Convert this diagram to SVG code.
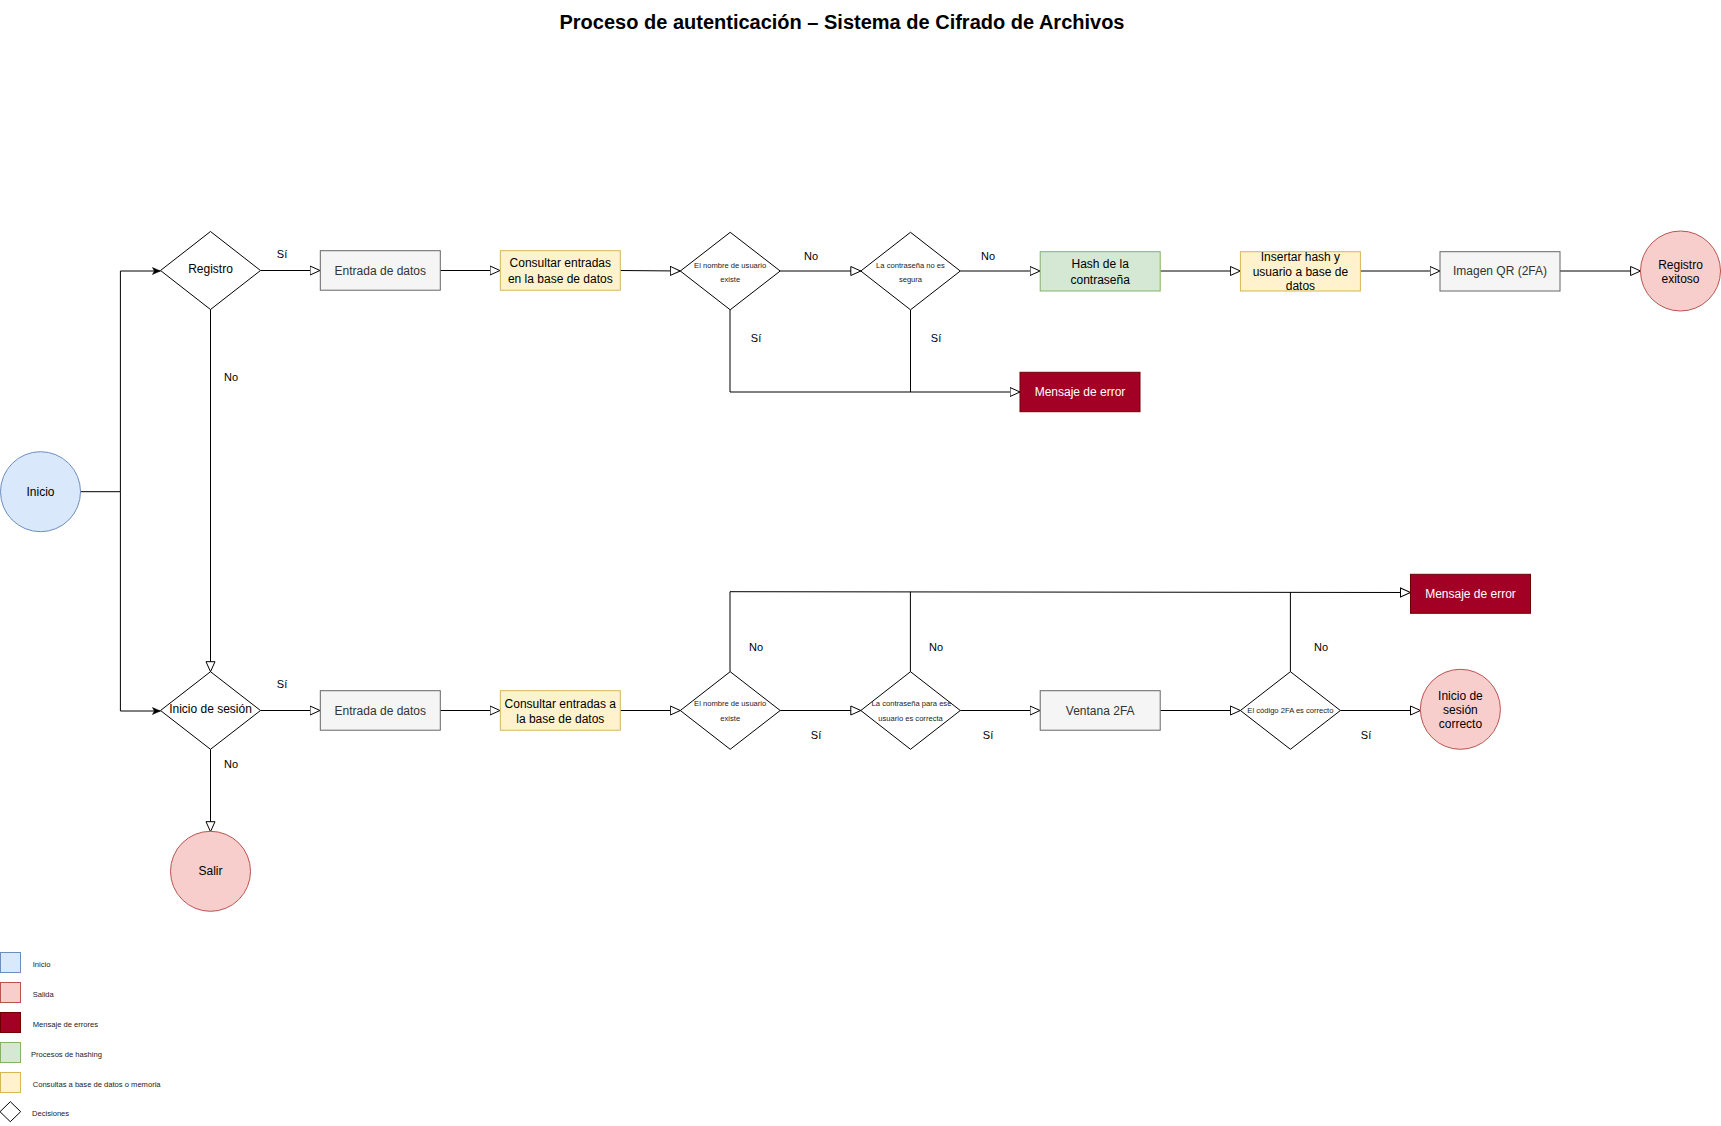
<svg xmlns="http://www.w3.org/2000/svg" width="1721" height="1126" viewBox="0 0 1721 1126">
<defs>
<style>
text{font-family:"Liberation Sans",Arial,Helvetica,sans-serif;}
.t12{font-size:12px;fill:#000;text-anchor:middle;dominant-baseline:central;}
.g12{font-size:12px;fill:#333333;text-anchor:middle;dominant-baseline:central;}
.w12{font-size:12px;fill:#ffffff;text-anchor:middle;dominant-baseline:central;}
.d8{font-size:7.6px;fill:#222;text-anchor:middle;dominant-baseline:central;}
.lbl{font-size:11px;fill:#000;text-anchor:middle;dominant-baseline:central;}
.leg{font-size:7.6px;fill:#222;dominant-baseline:central;}
.gray{fill:#f5f5f5;stroke:#666666;stroke-width:1;}
.yel{fill:#fff2cc;stroke:#d6b656;stroke-width:1;}
.grn{fill:#d5e8d4;stroke:#82b366;stroke-width:1;}
.blue{fill:#dae8fc;stroke:#6c8ebf;stroke-width:1;}
.pink{fill:#f8cecc;stroke:#b85450;stroke-width:1;}
.err{fill:#a20025;stroke:#6f0000;stroke-width:1;}
.dec{fill:#ffffff;stroke:#000;stroke-width:1;}
.c{fill:none;stroke:#000;stroke-width:1;}
.ca{fill:none;stroke:#000;stroke-width:1;marker-end:url(#open);}
.cf{fill:none;stroke:#000;stroke-width:1;marker-end:url(#filled);}
</style>
<marker id="open" markerUnits="userSpaceOnUse" markerWidth="12" markerHeight="12" refX="10.5" refY="5" orient="auto" viewBox="0 0 12 10">
<path d="M0.5,0.5 L10.5,5 L0.5,9.5 Z" fill="#ffffff" stroke="#000" stroke-width="1"/>
</marker>
<marker id="filled" markerUnits="userSpaceOnUse" markerWidth="9" markerHeight="8" refX="8" refY="3.5" orient="auto" viewBox="0 0 9 7">
<path d="M0,0 L8,3.5 L0,7 L2,3.5 Z" fill="#000" stroke="#000" stroke-width="0.5"/>
</marker>
</defs>
<rect width="1721" height="1126" fill="#ffffff"/>

<text x="842" y="22" style="font-size:20px;font-weight:bold;text-anchor:middle;dominant-baseline:central;fill:#000">Proceso de autenticación – Sistema de Cifrado de Archivos</text>

<g id="connectors">
<!-- Inicio split -->
<path class="c" d="M80,491.7 L120.4,491.7"/>
<path class="cf" d="M120.4,491.7 L120.4,271 L160.4,271"/>
<path class="cf" d="M120.4,491.7 L120.4,711 L160.4,711"/>
<!-- top row -->
<path class="ca" d="M260.5,270.5 L320,270.5"/>
<path class="ca" d="M440,270.5 L500,270.5"/>
<path class="ca" d="M620,270.5 L680.3,271"/>
<path class="ca" d="M780.2,271 L860.8,271"/>
<path class="ca" d="M960.3,271 L1040,271"/>
<path class="ca" d="M1160.4,271 L1240.4,271"/>
<path class="ca" d="M1360.4,271 L1440,271"/>
<path class="ca" d="M1560,271 L1640.6,271"/>
<path class="ca" d="M730,310 L730,392 L1020,392"/>
<path class="c" d="M910.5,310 L910.5,392"/>
<path class="ca" d="M210.5,309.5 L210.5,671.7"/>
<!-- bottom row -->
<path class="ca" d="M260.5,710.5 L320,710.5"/>
<path class="ca" d="M440,710.5 L500,710.5"/>
<path class="ca" d="M620,710.5 L680.3,710.5"/>
<path class="ca" d="M780.2,710.5 L860.8,710.5"/>
<path class="ca" d="M960.3,710.5 L1040,710.5"/>
<path class="ca" d="M1160.4,710.5 L1240.4,710.5"/>
<path class="ca" d="M1340.4,710.5 L1420.5,710.5"/>
<path class="ca" d="M730,671.7 L730,591.7 L1410.5,592.5"/>
<path class="c" d="M910.4,671.7 L910.4,591.8"/>
<path class="c" d="M1290.4,671.7 L1290.4,592.3"/>
<path class="ca" d="M210.5,749.3 L210.5,831.7"/>
</g>

<g id="edge-labels">
<text class="lbl" x="282" y="254">Sí</text>
<text class="lbl" x="231" y="377">No</text>
<text class="lbl" x="811" y="256">No</text>
<text class="lbl" x="988" y="256">No</text>
<text class="lbl" x="756" y="338">Sí</text>
<text class="lbl" x="936" y="338">Sí</text>
<text class="lbl" x="282" y="684">Sí</text>
<text class="lbl" x="231" y="764">No</text>
<text class="lbl" x="756" y="647">No</text>
<text class="lbl" x="936" y="647">No</text>
<text class="lbl" x="1321" y="647">No</text>
<text class="lbl" x="816" y="735">Sí</text>
<text class="lbl" x="988" y="735">Sí</text>
<text class="lbl" x="1366" y="735">Sí</text>
</g>

<g id="inicio">
<circle class="blue" cx="40.5" cy="491.7" r="40"/>
<text class="t12" x="40.5" y="491.7">Inicio</text>
</g>

<g id="registro">
<path class="dec" d="M210.5,231.5 L260.5,270.5 L210.5,309.5 L160.5,270.5 Z"/>
<text class="t12" x="210.5" y="269">Registro</text>
</g>
<g id="reg-entrada">
<rect class="gray" x="320.3" y="250.7" width="120" height="39.5"/>
<text class="g12" x="380.3" y="270.5">Entrada de datos</text>
</g>
<g id="reg-consultar">
<rect class="yel" x="500.3" y="250.7" width="120" height="39.5"/>
<text class="t12" x="560.3" y="263.3">Consultar entradas</text>
<text class="t12" x="560.3" y="278.5">en la base de datos</text>
</g>
<g id="reg-usuario-existe">
<path class="dec" d="M730.2,232.3 L780.2,271 L730.2,309.8 L680.3,271 Z"/>
<text class="d8" x="730.2" y="265">El nombre de usuario</text>
<text class="d8" x="730.2" y="279.3">existe</text>
</g>
<g id="reg-contrasena-segura">
<path class="dec" d="M910.5,232.3 L960.3,271 L910.5,309.8 L860.8,271 Z"/>
<text class="d8" x="910.5" y="265">La contraseña no es</text>
<text class="d8" x="910.5" y="279.3">segura</text>
</g>
<g id="hash">
<rect class="grn" x="1040.2" y="251.7" width="120" height="39.3"/>
<text class="t12" x="1100.2" y="264.3">Hash de la</text>
<text class="t12" x="1100.2" y="279.5">contraseña</text>
</g>
<g id="insertar">
<rect class="yel" x="1240.4" y="251.7" width="120" height="39.3"/>
<text class="t12" x="1300.4" y="257.3">Insertar hash y</text>
<text class="t12" x="1300.4" y="271.8">usuario a base de</text>
<text class="t12" x="1300.4" y="286.3">datos</text>
</g>
<g id="qr">
<rect class="gray" x="1440" y="251.7" width="120" height="39.3"/>
<text class="g12" x="1500" y="271.3">Imagen QR (2FA)</text>
</g>
<g id="registro-exitoso">
<circle class="pink" cx="1680.5" cy="271" r="40"/>
<text class="t12" x="1680.5" y="264.7">Registro</text>
<text class="t12" x="1680.5" y="279.3">exitoso</text>
</g>
<g id="reg-error">
<rect class="err" x="1020" y="372.3" width="120" height="39.4"/>
<text class="w12" x="1080" y="392">Mensaje de error</text>
</g>

<g id="inicio-sesion">
<path class="dec" d="M210.5,671.7 L260.5,710.5 L210.5,749.3 L160.5,710.5 Z"/>
<text class="t12" x="210.5" y="708.7">Inicio de sesión</text>
</g>
<g id="log-entrada">
<rect class="gray" x="320.3" y="690.7" width="120" height="39.5"/>
<text class="g12" x="380.3" y="710.5">Entrada de datos</text>
</g>
<g id="log-consultar">
<rect class="yel" x="500.3" y="690.7" width="120" height="39.5"/>
<text class="t12" x="560.3" y="703.7">Consultar entradas a</text>
<text class="t12" x="560.3" y="718.7">la base de datos</text>
</g>
<g id="log-usuario-existe">
<path class="dec" d="M730.2,671.7 L780.2,710.5 L730.2,749.3 L680.3,710.5 Z"/>
<text class="d8" x="730.2" y="703.3">El nombre de usuario</text>
<text class="d8" x="730.2" y="718.7">existe</text>
</g>
<g id="log-contrasena-correcta">
<path class="dec" d="M910.5,671.7 L960.3,710.5 L910.5,749.3 L860.8,710.5 Z"/>
<text class="d8" x="911.5" y="703.3">La contraseña para ese</text>
<text class="d8" x="910.5" y="718.7">usuario es correcta</text>
</g>
<g id="ventana-2fa">
<rect class="gray" x="1040.2" y="690.7" width="120" height="39.5"/>
<text class="g12" x="1100.2" y="710.5">Ventana 2FA</text>
</g>
<g id="codigo-2fa">
<path class="dec" d="M1290.4,671.7 L1340.4,710.5 L1290.4,749.3 L1240.4,710.5 Z"/>
<text class="d8" x="1290.4" y="710.3">El código 2FA es correcto</text>
</g>
<g id="inicio-correcto">
<circle class="pink" cx="1460.4" cy="709.3" r="40"/>
<text class="t12" x="1460.4" y="696">Inicio de</text>
<text class="t12" x="1460.4" y="710.2">sesión</text>
<text class="t12" x="1460.4" y="724.4">correcto</text>
</g>
<g id="log-error">
<rect class="err" x="1410.5" y="574.3" width="120" height="39"/>
<text class="w12" x="1470.5" y="594">Mensaje de error</text>
</g>
<g id="salir">
<circle class="pink" cx="210.5" cy="871.3" r="40"/>
<text class="t12" x="210.5" y="871.3">Salir</text>
</g>

<g id="legend">
<rect class="blue" x="0.5" y="952.5" width="20" height="20"/>
<text class="leg" x="32.7" y="964.3">Inicio</text>
<rect class="pink" x="0.5" y="982.5" width="20" height="20"/>
<text class="leg" x="32.7" y="994.3">Salida</text>
<rect class="err" x="0.5" y="1012.5" width="20" height="20"/>
<text class="leg" x="32.7" y="1024.3">Mensaje de errores</text>
<rect class="grn" x="0.5" y="1042.5" width="20" height="20"/>
<text class="leg" x="31" y="1054.3">Procesos de hashing</text>
<rect class="yel" x="0.5" y="1072.5" width="20" height="20"/>
<text class="leg" x="32.7" y="1084.3">Consultas a base de datos o memoria</text>
<path class="dec" d="M10.3,1101.7 L20.7,1111.7 L10.3,1121.7 L0,1111.7 Z"/>
<text class="leg" x="32" y="1113.3">Decisiones</text>
</g>
</svg>
